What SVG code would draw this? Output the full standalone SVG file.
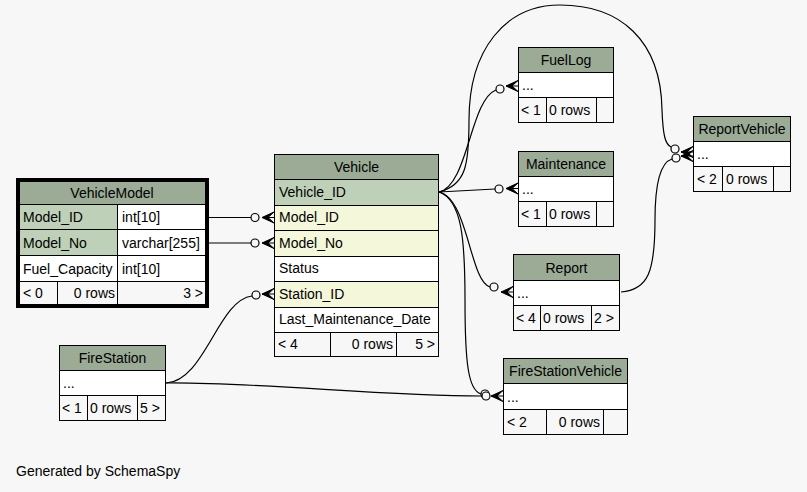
<svg xmlns="http://www.w3.org/2000/svg" width="807" height="492" viewBox="0 0 807 492">
<style>
text{font-family:"Liberation Sans",Arial,sans-serif;font-size:14px;fill:#000}
.c{text-anchor:middle}.r{text-anchor:end}
rect{stroke:#000;stroke-width:1}
.h{fill:#9bab96}.pk{fill:#bed1b8}.fk{fill:#f4f7da}.w{fill:#fff}.f{fill:#f7f7f7}
.e{fill:none;stroke:#000;stroke-width:1.2}
.o{fill:#f7f7f7;stroke:#000;stroke-width:1.2}
</style>
<defs>
<path id="crow" d="M-12,0 L0,-5.5 L-6,0 L0,5.5 Z M-12,0 H0" fill="#000" stroke="#000" stroke-width="1"/>
</defs>
<rect x="0" y="0" width="807" height="492" style="fill:#f7f7f7;stroke:none"/>

<g id="connectors">
<path class="e" d="M208,217.5 H251"/>
<path class="e" d="M208,243 H251"/>
<path class="e" d="M166,383 C205,381 218,300 252,296"/>
<path class="e" d="M439,192 C468,186 470,100 496,90"/>
<path class="e" d="M439,192 L495,189"/>
<path class="e" d="M439,192 C468,198 470,282 490,287"/>
<path class="e" d="M439,192 C462,200 465,240 465,300 C465,362 468,390 481,394"/>
<path class="e" d="M166,383 C260,382 380,396 482,396"/>
<path class="e" d="M439,192 C466,185 469,165 469,120 C469,50 505,5 560,5 C620,5 661,40 662,110 C663,135 665,144 671,147"/>
<path class="e" d="M621,292 C648,290 655,272 655,220 C655,178 662,162 672,159"/>
<circle class="o" cx="255" cy="217.5" r="4"/><use href="#crow" x="274" y="217.5"/>
<circle class="o" cx="255" cy="243" r="4"/><use href="#crow" x="274" y="243"/>
<circle class="o" cx="256" cy="295" r="4"/><use href="#crow" x="274" y="294"/>
<circle class="o" cx="500" cy="89" r="4"/><use href="#crow" x="518" y="86"/>
<circle class="o" cx="499" cy="189" r="4"/><use href="#crow" x="518" y="188.5"/>
<circle class="o" cx="494" cy="287" r="4"/><use href="#crow" x="513" y="292"/>
<circle class="o" cx="485" cy="394" r="4"/><circle class="o" cx="486" cy="396" r="4"/><use href="#crow" x="503" y="396"/>
<circle class="o" cx="675" cy="149" r="4"/><use href="#crow" x="693" y="152"/>
<circle class="o" cx="676" cy="158" r="4"/><use href="#crow" x="693" y="156"/>
</g>

<g id="VehicleModel">
<rect x="17.5" y="179.5" width="190" height="127" style="fill:#fff;stroke:#000;stroke-width:3"/>
<rect class="h" x="19.5" y="181.5" width="186" height="23"/>
<text class="c" x="112" y="198">VehicleModel</text>
<rect class="pk" x="19.5" y="204.5" width="98" height="25"/><rect class="w" x="117.5" y="204.5" width="88" height="25"/>
<text x="23" y="222">Model_ID</text><text x="122" y="222">int[10]</text>
<rect class="pk" x="19.5" y="229.5" width="98" height="26"/><rect class="w" x="117.5" y="229.5" width="88" height="26"/>
<text x="23" y="248">Model_No</text><text x="122" y="248">varchar[255]</text>
<rect class="w" x="19.5" y="255.5" width="98" height="26"/><rect class="w" x="117.5" y="255.5" width="88" height="26"/>
<text x="23" y="274">Fuel_Capacity</text><text x="122" y="274">int[10]</text>
<rect class="f" x="19.5" y="281.5" width="38" height="23"/><rect class="f" x="57.5" y="281.5" width="60" height="23"/><rect class="f" x="117.5" y="281.5" width="88" height="23"/>
<text x="23" y="298">&lt; 0</text><text class="r" x="115" y="298">0 rows</text><text class="r" x="203" y="298">3 &gt;</text>
</g>

<g id="Vehicle">
<rect class="h" x="274.5" y="154.5" width="164" height="25"/>
<text class="c" x="356.5" y="172">Vehicle</text>
<rect class="pk" x="274.5" y="179.5" width="164" height="26"/><text x="279" y="197">Vehicle_ID</text>
<rect class="fk" x="274.5" y="205.5" width="164" height="25"/><text x="279" y="222">Model_ID</text>
<rect class="fk" x="274.5" y="230.5" width="164" height="26"/><text x="279" y="248">Model_No</text>
<rect class="w" x="274.5" y="256.5" width="164" height="25"/><text x="279" y="273">Status</text>
<rect class="fk" x="274.5" y="281.5" width="164" height="26"/><text x="279" y="299">Station_ID</text>
<rect class="w" x="274.5" y="307.5" width="164" height="25"/><text x="279" y="324">Last_Maintenance_Date</text>
<rect class="f" x="274.5" y="332.5" width="56" height="24"/><rect class="f" x="330.5" y="332.5" width="66" height="24"/><rect class="f" x="396.5" y="332.5" width="42" height="24"/>
<text x="278" y="349">&lt; 4</text><text class="r" x="393" y="349">0 rows</text><text class="r" x="435" y="349">5 &gt;</text>
</g>

<g id="FuelLog">
<rect class="h" x="518.5" y="47.5" width="95" height="25"/>
<text class="c" x="566" y="65">FuelLog</text>
<rect class="w" x="518.5" y="72.5" width="95" height="25"/><text x="522" y="90">...</text>
<rect class="f" x="518.5" y="97.5" width="28" height="25"/><rect class="f" x="546.5" y="97.5" width="50" height="25"/><rect class="f" x="596.5" y="97.5" width="17" height="25"/>
<text x="521" y="115">&lt; 1</text><text x="549" y="115">0 rows</text>
</g>

<g id="Maintenance">
<rect class="h" x="518.5" y="151.5" width="95" height="25"/>
<text class="c" x="566" y="169">Maintenance</text>
<rect class="w" x="518.5" y="176.5" width="95" height="25"/><text x="522" y="194">...</text>
<rect class="f" x="518.5" y="201.5" width="28" height="25"/><rect class="f" x="546.5" y="201.5" width="50" height="25"/><rect class="f" x="596.5" y="201.5" width="17" height="25"/>
<text x="521" y="219">&lt; 1</text><text x="549" y="219">0 rows</text>
</g>

<g id="Report">
<rect class="h" x="513.5" y="254.5" width="106" height="26"/>
<text class="c" x="566.5" y="273">Report</text>
<rect class="w" x="513.5" y="280.5" width="106" height="25"/><text x="517" y="298">...</text>
<rect class="f" x="513.5" y="305.5" width="27" height="25"/><rect class="f" x="540.5" y="305.5" width="51" height="25"/><rect class="f" x="591.5" y="305.5" width="28" height="25"/>
<text x="516" y="323">&lt; 4</text><text x="543" y="323">0 rows</text><text x="594" y="323">2 &gt;</text>
</g>

<g id="ReportVehicle">
<rect class="h" x="693.5" y="116.5" width="97" height="25"/>
<text class="c" x="742" y="134">ReportVehicle</text>
<rect class="w" x="693.5" y="141.5" width="97" height="25"/><text x="697" y="159">...</text>
<rect class="f" x="693.5" y="166.5" width="29" height="25"/><rect class="f" x="722.5" y="166.5" width="51" height="25"/><rect class="f" x="773.5" y="166.5" width="17" height="25"/>
<text x="697" y="184">&lt; 2</text><text x="726" y="184">0 rows</text>
</g>

<g id="FireStation">
<rect class="h" x="59.5" y="345.5" width="106" height="25"/>
<text class="c" x="112.5" y="363">FireStation</text>
<rect class="w" x="59.5" y="370.5" width="106" height="25"/><text x="63" y="388">...</text>
<rect class="f" x="59.5" y="395.5" width="28" height="25"/><rect class="f" x="87.5" y="395.5" width="50" height="25"/><rect class="f" x="137.5" y="395.5" width="28" height="25"/>
<text x="62" y="413">&lt; 1</text><text x="90" y="413">0 rows</text><text x="140" y="413">5 &gt;</text>
</g>

<g id="FireStationVehicle">
<rect class="h" x="503.5" y="358.5" width="124" height="25"/>
<text class="c" x="565.5" y="376">FireStationVehicle</text>
<rect class="w" x="503.5" y="383.5" width="124" height="26"/><text x="507" y="402">...</text>
<rect class="f" x="503.5" y="409.5" width="43" height="25"/><rect class="f" x="546.5" y="409.5" width="57" height="25"/><rect class="f" x="603.5" y="409.5" width="24" height="25"/>
<text x="507" y="427">&lt; 2</text><text class="r" x="600" y="427">0 rows</text>
</g>

<text x="16" y="476">Generated by SchemaSpy</text>
</svg>
